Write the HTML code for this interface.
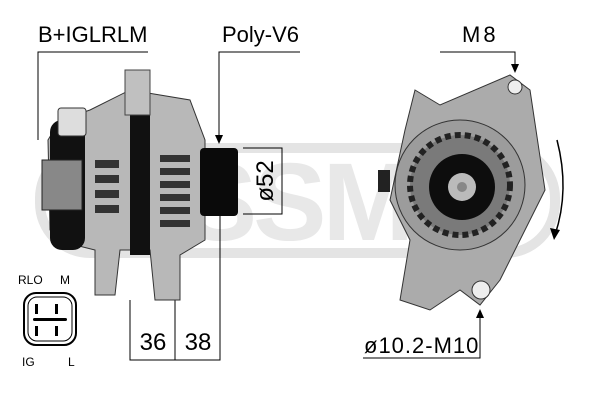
<!DOCTYPE html>
<html><head><style>body{margin:0;background:#fff}svg{display:block}</style></head><body>
<svg width="600" height="400" viewBox="0 0 600 400" font-family="Liberation Sans, sans-serif">
<!-- watermark -->
<rect x="40" y="148" width="515" height="105" rx="50" fill="none" stroke="#e4e4e4" stroke-width="10"/>
<text x="300" y="240" font-size="110" font-weight="bold" fill="#e8e8e8" text-anchor="middle" letter-spacing="-4">ESSMA</text>
<!-- labels -->
<text x="38" y="42" font-size="22">B+IGLRLM</text>
<text x="222" y="42" font-size="22">Poly-V6</text>
<text x="462" y="42" font-size="22" letter-spacing="3">M8</text>
<g stroke="#000" stroke-width="1" fill="none">
<path d="M38 140V52H148"/><path d="M300 52H219V135"/><path d="M440 52H515V66"/>
<path d="M130 300V360H220V210M175 300V360"/>
<path d="M243 148H282V214H243"/>
<path d="M363 358H480V318"/>
</g>
<path d="M215 135h8l-4 9z"/><path d="M511 64h8l-4 9z"/><path d="M476 318h8l-4-9z"/>
<!-- left alternator -->
<path d="M60 120 L90 110 L130 90 L190 100 L205 140 L205 240 L180 255 L180 300 L155 300 L150 250 L120 250 L115 295 L95 295 L95 250 L75 245 L50 230 L48 140z" fill="#b8b8b8" stroke="#333"/>
<rect x="50" y="120" width="35" height="130" rx="12" fill="#111"/>
<rect x="58" y="108" width="28" height="28" rx="3" fill="#ddd" stroke="#333"/>
<rect x="42" y="160" width="40" height="50" fill="#888" stroke="#222"/>
<rect x="130" y="115" width="20" height="140" fill="#111"/>
<g fill="#333"><rect x="95" y="160" width="24" height="8"/><rect x="95" y="175" width="24" height="8"/><rect x="95" y="190" width="24" height="8"/><rect x="95" y="205" width="24" height="8"/>
<rect x="160" y="155" width="30" height="7"/><rect x="160" y="168" width="30" height="7"/><rect x="160" y="181" width="30" height="7"/><rect x="160" y="194" width="30" height="7"/><rect x="160" y="207" width="30" height="7"/><rect x="160" y="220" width="30" height="7"/></g>
<rect x="125" y="70" width="25" height="45" fill="#c0c0c0" stroke="#444"/>
<rect x="200" y="148" width="38" height="68" rx="4" fill="#0a0a0a"/>
<text transform="translate(273,181) rotate(-90)" font-size="24" text-anchor="middle">ø52</text>
<text x="153" y="350" font-size="24" text-anchor="middle">36</text>
<text x="198" y="350" font-size="24" text-anchor="middle">38</text>
<!-- connector -->
<text x="18" y="284" font-size="12">RLO</text><text x="60" y="284" font-size="12">M</text>
<text x="22" y="366" font-size="12">IG</text><text x="68" y="366" font-size="12">L</text>
<rect x="24" y="293" width="52" height="52" rx="12" fill="none" stroke="#000" stroke-width="2"/>
<rect x="28" y="297" width="44" height="44" rx="9" fill="none" stroke="#000"/>
<rect x="35" y="304" width="3" height="10"/><rect x="55" y="304" width="3" height="10"/>
<rect x="35" y="326" width="3" height="10"/><rect x="55" y="326" width="3" height="10"/>
<rect x="33" y="318" width="34" height="3" rx="1.5"/>
<!-- right alternator -->
<path d="M415 90 L440 105 L510 75 L530 90 L545 190 L500 280 L480 305 L460 290 L430 310 L400 300 L410 240 L390 200 L405 130z" fill="#ababab" stroke="#333"/>
<circle cx="460" cy="185" r="65" fill="#9c9c9c" stroke="#333"/>
<circle cx="460" cy="185" r="50" fill="#7a7a7a" stroke="#222" stroke-dasharray="6 4" stroke-width="6"/>
<circle cx="462" cy="187" r="33" fill="#0d0d0d"/>
<circle cx="462" cy="187" r="14" fill="#bbb"/><circle cx="462" cy="187" r="5" fill="#888"/>
<circle cx="515" cy="87" r="7" fill="#eee" stroke="#333"/>
<circle cx="481" cy="290" r="9" fill="#eee" stroke="#333"/>
<rect x="378" y="170" width="12" height="22" fill="#222"/>
<path d="M557 140 Q570 190 555 235" fill="none" stroke="#000" stroke-width="1.5"/>
<path d="M550 228l10 2-6 10z"/>
<text x="364" y="353" font-size="22" letter-spacing="1">ø10.2-M10</text>
</svg>
</body></html>
